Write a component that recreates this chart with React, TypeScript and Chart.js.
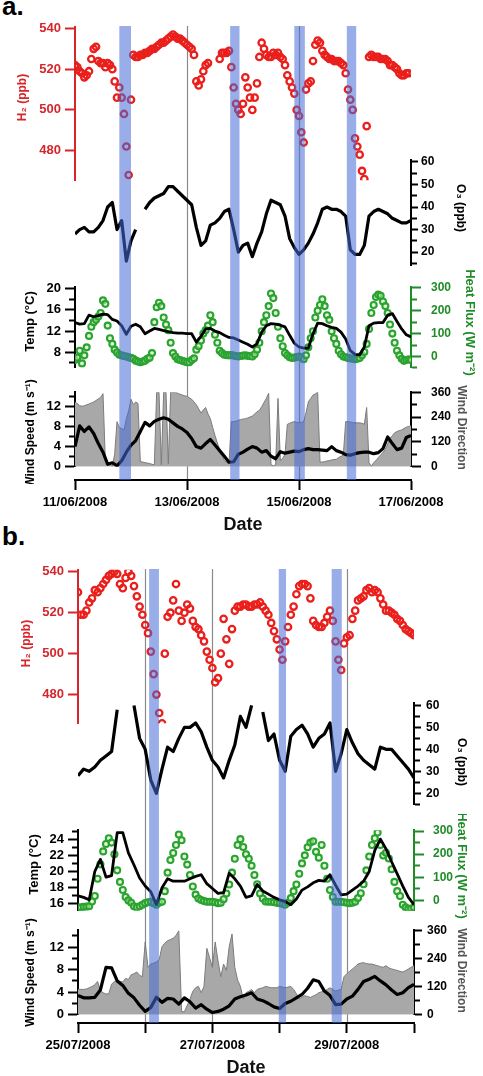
import { useEffect, useRef } from "react";
import { Chart, registerables } from "chart.js";

Chart.register(...registerables);

const W = 483;
const H = 1076;
const FONT = "'Liberation Sans', Arial, Helvetica, sans-serif";
const PAD = 10;
const XH = 56;

const RED = "#ea1f1b";
const RED_AXIS = "#d6262b";
const GREEN = "#2aa330";
const GREEN_AXIS = "#1f8c28";
const HF_FILL = "rgba(200, 240, 180, 0.55)";
const BAND = "rgba(70, 105, 215, 0.55)";
const WD_FILL = "#a8a8a8";
const WD_EDGE = "#7c7c7c";

type Val = number | null;

// ---------- panel a : 11/06/2008 00:00 -> 17/06/2008 00:00 (hours from start) ----------
const A_DATES = ["11/06/2008", "13/06/2008", "15/06/2008", "17/06/2008"];
const A_LINES = [48, 96];
const A_BANDS = [[19, 24], [66.5, 70.5], [94, 98.5], [116.5, 120.5]];

// hourly
const A_H2: Val[] = [
  522, 521, 519, 518, 516, 517, 519, 525, 530, 531,
  524, 523, 523, 521, 523, 522, 520, 514, 506, 511,
  506, 498, 482, 468, 505, 527, 526, 526, 527, 527,
  528, 528, 529, 530, 530, 531, 532, 533, 533, 534,
  535, 536, 537, 536, 535, 535, 534, 533, 532, 531,
  530, 527, 514, 512, 515, 519, 522, 523, null, null,
  null, null, 525, 528, 528, 528, 529, 521, 511, 503,
  500, 498, 503, 516, 511, 506, 500, 506, 513, 526,
  533, 530, 527, 526, 526, 528, 527, 528, 526, 525,
  522, 517, 514, 511, 508, 500, 497, 489, 484, 510,
  513, 514, 524, 532, 534, 533, 529, 527, 526, 525,
  525, 524, 524, 524, 523, 522, 518, 510, 505, 500,
  486, 482, 478, 470, 466, 492, 526, 527, 526, 526,
  526, 525, 525, 525, 524, 522, 522, 521, 520, 518,
  517, 517, 518, 518, null,
];
const A_HF: Val[] = [
  -15, -5, 25, -30, 5, 40, 90, 130, 150, 160,
  175, 190, 245, 230, 135, 80, 55, 30, 18, 8,
  5, 2, 0, -3, -6, -10, -18, -22, -25, -22,
  -18, -10, -5, 15, 150, 215, 235, 220, 170, 140,
  115, 60, 15, 0, -12, -15, -19, -22, -25, -25,
  -15, -8, 30, 45, 70, 100, 115, 135, 180, 150,
  95, 60, 25, 15, 8, 6, 5, 6, 4, 2,
  0, 2, 4, 5, 3, 2, 0, 10, 30, 60,
  110, 150, 180, 220, 275, 255, 190, 130, 80, 45,
  15, 5, -3, -6, -5, -2, 0, -5, -12, 5,
  40, 80, 110, 170, 200, 225, 250, 220, 180, 160,
  110, 80, 55, 25, 10, 0, -3, -6, -8, -10,
  -12, -10, -6, 5, 20, 55, 120, 190, 225, 260,
  270, 265, 240, 220, 190, 140, 100, 60, 25, 5,
  -10, -19, -15, -12, -15,
];
const A_WD: Val[] = [
  313, 305, 295, 292, 295, 299, 303, 308, 313, 320,
  328, 335, 353, 30, 16, 10, 3, 60, 218, 190,
  185, 178, 232, 270, 326, 300, 313, 305, 25, 23,
  20, 18, 16, 12, 10, 360, 360, 10, 360, 360,
  15, 360, 360, 360, 355, 350, 346, 343, 340, 333,
  326, 313, 299, 280, 259, 275, 286, 255, 232, 190,
  151, 115, 84, 55, 30, 22, 16, 218, 218, 220,
  225, 228, 230, 232, 236, 240, 245, 255, 265, 272,
  290, 310, 330, 355, 10, 5, 10, 330, 30, 40,
  60, 205, 210, 215, 218, 215, 212, 215, 218, 260,
  313, 330, 346, 352, 360, 23, 23, 25, 28, 30,
  33, 35, 36, 45, 50, 57, 218, 218, 216, 214,
  212, 212, 212, 210, 205, 286, 20, 3, 20, 30,
  45, 57, 70, 84, 110, 137, 150, 164, 170, 175,
  178, 185, 191, 195, 198,
];
// two-hourly
const A_O3: Val[] = [
  28, 30, 31, 29, 29, 31, 34, 40, 42, 30,
  34, 16, 25, 30, null, 39, 42, 44, 45, 46,
  49, 49, 47, 45, 43, 41, 31, 23, 25, 32,
  33, 35, 38, 39, 30, 20, 23, 24, 18, 24,
  29, 37, 43, 42, 41, 36, 26, 22, 19, 21,
  24, 28, 33, 39, 40, 39, 39, 38, 36, 21,
  19, 19, 23, 36, 38, 39, 38, 37, 35, 34,
  33, 33, 34,
];
const A_TEMP: Val[] = [
  13.6, 13.3, 13.4, 15.0, 14.7, 14.9, 15.2, 15.1, 14.2, 13.9,
  13.0, 11.4, 12.9, 13.3, 12.8, 11.5, 12.0, 12.5, 12.3, 12.1,
  11.9, 11.7, 11.6, 11.6, 11.5, 11.5, 9.9, 11.0, 12.4, 12.5,
  12.0, 11.7, 11.2, 10.8, 10.7, 10.3, 9.9, 9.5, 9.0, 9.6,
  11.8, 13.0, 13.4, 13.3, 13.1, 12.8, 11.2, 9.7, 9.0, 8.8,
  8.8, 11.5, 13.5, 13.4, 13.0, 12.7, 12.5, 11.8, 10.5, 8.3,
  7.6, 7.5, 9.0, 13.0, 13.5, 13.6, 13.6, 15.0, 15.3, 13.8,
  12.4, 11.3, 10.9,
];
const A_WS: Val[] = [
  4.0, 8.1, 7.0, 7.9, 6.6, 4.6, 2.9, 0.5, 0.8, 0.2,
  1.2, 2.9, 4.3, 5.2, 7.0, 8.8, 8.1, 9.0, 9.4, 9.7,
  9.4, 8.7, 8.0, 7.5, 6.8, 5.6, 4.0, 3.7, 4.6, 5.4,
  4.3, 3.2, 2.1, 0.9, 1.0, 2.5, 2.9, 3.5, 4.0, 3.7,
  2.9, 3.2, 2.1, 1.6, 3.0, 2.7, 2.9, 3.1, 3.0, 3.4,
  3.6, 3.4, 3.4, 3.3, 3.2, 4.0, 3.2, 2.9, 2.4, 2.3,
  2.6, 2.8, 2.9, 2.9, 2.6, 2.8, 3.6, 5.9, 4.6, 3.4,
  3.7, 5.8, 6.2,
];

// ---------- panel b : 25/07/2008 00:00 -> 30/07/2008 00:00 ----------
const B_DATES = ["25/07/2008", "27/07/2008", "29/07/2008"];
const B_LINES = [24, 48, 96];
const B_BANDS = [[25.4, 28.9], [71.7, 74.3], [90.6, 94.2]];

// hourly
const B_H2: Val[] = [
  530, 519, 519, 521, 525, 527, 531, 530, 532, 534,
  536, 538, 539, 540, 539, 534, 532, 537, 540, 538,
  533, 528, 523, 519, 514, 510, 501, 490, 480, 471,
  466, 500, 518, 520, 526, 534, 521, 516, 520, 524,
  522, 516, 513, 512, 509, 506, 501, 497, 493, 486,
  488, 500, 517, 507, 495, 512, 521, 523, 523, 524,
  524, 523, 523, 524, 524, 525, 523, 521, 519, 515,
  511, 507, 502, 497, 506, 513, 519, 523, 529, 533,
  534, 534, 533, 527, 516, 514, 513, 513, 515, 518,
  521, 516, 506, 497, 492, 505, 508, 509, 517, 521,
  526, 527, 528, 531, 532, 530, 531, 530, 527, 524,
  521, 521, 520, 519, 517, 516, 514, 512, 511, 510,
  509,
];
const B_HF: Val[] = [
  -31, -30, -28, -27, -25, -5, 19, 94, 156, 212,
  244, 269, 250, 200, 130, 80, 45, 15, 0, -10,
  -25, -31, -25, -19, -12, -8, -6, -12, -19, -10,
  -6, 40, 120, 175, 205, 240, 285, 260, 190, 155,
  110, 60, 25, 8, 2, -3, -6, -6, -6, -8,
  -12, -10, 5, 30, 69, 120, 180, 240, 265, 231,
  200, 180, 150, 110, 70, 30, 8, -5, -6, -6,
  -8, -10, -12, -15, -19, -10, 10, 40, 69, 115,
  160, 195, 230, 250, 256, 210, 185, 240, 150, 94,
  45, 15, -6, -6, -6, -8, -10, -12, -10, -6,
  10, 31, 70, 130, 190, 240, 269, 294, 240, 194,
  206, 181, 135, 80, 40, 19, -19, -30, -37, -35,
  -31,
];
const B_WD: Val[] = [
  108, 108, 108, 110, 115, 120, 128, 142, 101, 94,
  88, 90, 130, 142, 148, 142, 140, 155, 150, 170,
  175, 182, 168, 162, 310, 202, 216, 220, 225, 235,
  290, 305, 315, 320, 326, 337, 357, 13, 13, 40,
  67, 100, 115, 121, 94, 121, 283, 243, 202, 310,
  229, 162, 216, 189, 290, 344, 202, 148, 121, 67,
  94, 100, 108, 94, 108, 112, 115, 121, 118, 115,
  115, 115, 121, 118, 115, 118, 121, 108, 90, 67,
  75, 81, 78, 74, 80, 85, 94, 98, 101, 108,
  115, 108, 101, 105, 108, 162, 175, 185, 195, 205,
  216, 220, 222, 218, 216, 216, 212, 209, 205, 202,
  209, 200, 195, 192, 189, 185, 182, 188, 195, 202,
  209,
];
// two-hourly
const B_O3: Val[] = [
  28, 31, 30, 32, 35, 37, 39, 58, null, null,
  60, 45, 40, 26, 20, 31, 41, 39, 45, 50,
  50, 52, 48, 41, 35, 32, 27, 35, 42, 55,
  50, 60, null, 57, 44, 47, 35, 30, 46, 49,
  51, 47, 41, 45, 47, 52, 30, 38, 49, 43,
  38, 35, 33, 31, 41, 40, 40, 37, 34, 31,
  27,
];
const B_TEMP: Val[] = [
  17.0, 16.8, 16.5, 20.0, 21.5, 19.3, 19.5, 24.8, 24.8, 22.3,
  20.8, 19.2, 18.2, 17.5, 15.9, 18.0, 19.1, 18.8, 18.8, 18.8,
  19.1, 19.4, 19.6, 18.5, 17.9, 17.3, 17.4, 19.8, 19.1, 18.2,
  16.8, 17.0, 18.4, 17.6, 17.2, 16.8, 16.5, 16.3, 15.9, 16.6,
  17.7, 18.1, 18.6, 18.9, 18.8, 19.6, 18.3, 17.1, 17.2, 17.7,
  18.2, 18.8, 20.0, 22.6, 24.0, 22.8, 21.2, 19.7, 18.2, 16.8,
  15.9,
];
const B_WS: Val[] = [
  3.4, 3.0, 3.0, 3.1, 4.4, 8.4, 8.3, 6.0, 5.2, 3.8,
  3.0, 1.7, 0.6, 1.3, 3.1, 2.2, 2.9, 2.8, 1.9, 3.0,
  2.3, 1.2, 1.8, 1.0, 0.4, 0.6, 1.0, 1.6, 2.8, 3.2,
  3.5, 3.9, 2.8, 2.5, 2.0, 1.4, 1.1, 2.0, 2.4, 3.0,
  3.6, 4.7, 6.2, 5.9, 4.2, 3.4, 1.8, 1.9, 2.8, 3.3,
  4.5, 5.9, 6.3, 6.8, 6.0, 5.3, 4.4, 3.6, 3.9, 4.8,
  5.4,
];

// ---------- helpers ----------
const pts = (vals: Val[], step: number) => vals.map((v, i) => ({ x: i * step, y: v }));

// value range of an axis, from two tick positions
const calib = (v1: number, y1: number, v2: number, y2: number, top: number, bottom: number) => {
  const ppu = (y2 - y1) / (v1 - v2);
  return { min: v2 - (bottom - y2) / ppu, max: v1 + (y1 - top) / ppu };
};

type AxisSpec = {
  min: number; max: number; step: number; major: number;
  color: string; label: string; size: number; tick: number; pad: number;
};
type Title = { text: string; x: number; dy: number; size: number; color: string; side: "left" | "right" };
type Plot = { top: number; bottom: number; sets: () => any[]; l?: AxisSpec; r?: AxisSpec; titles: Title[] };
type PanelCfg = {
  left: number; right: number; xMax: number; xTicks: number[]; xLabel: (v: number) => string;
  layerTop: number; axisY: number; lines: number[]; bands: number[][]; plots: Plot[];
};

const titlePlugin = {
  id: "axisTitles",
  afterDraw(chart: any, _a: any, opts: any) {
    const { ctx, chartArea } = chart;
    (opts.items || []).forEach((t: Title) => {
      ctx.save();
      ctx.translate(t.x, (chartArea.top + chartArea.bottom) / 2 + t.dy);
      ctx.rotate(t.side === "left" ? -Math.PI / 2 : Math.PI / 2);
      ctx.font = `bold ${t.size}px ${FONT}`;
      ctx.fillStyle = t.color;
      ctx.textAlign = "center";
      ctx.textBaseline = "middle";
      ctx.fillText(t.text, 0, 0);
      ctx.restore();
    });
  },
};

const layerPlugin = {
  id: "layer",
  afterDraw(chart: any, _a: any, opts: any) {
    const { ctx, chartArea, scales } = chart;
    const x = scales.x;
    ctx.save();
    if (opts.what === "lines") {
      ctx.strokeStyle = "#8a8a8a";
      ctx.lineWidth = 1.2;
      opts.lines.forEach((h: number) => {
        const px = Math.round(x.getPixelForValue(h)) + 0.5;
        ctx.beginPath();
        ctx.moveTo(px, chartArea.top);
        ctx.lineTo(px, chartArea.bottom);
        ctx.stroke();
      });
    } else {
      ctx.fillStyle = BAND;
      opts.bands.forEach(([a, b]: number[]) => {
        const x1 = x.getPixelForValue(a);
        const x2 = x.getPixelForValue(b);
        ctx.fillRect(x1, chartArea.top, x2 - x1, chartArea.bottom - chartArea.top);
      });
    }
    ctx.restore();
  },
};

function yScale(pos: "left" | "right", s: AxisSpec, width: number) {
  const isMajor = (v: number) => Math.abs(v / s.major - Math.round(v / s.major)) < 1e-6;
  const minor = 5;
  return {
    type: "linear",
    position: pos,
    min: s.min,
    max: s.max,
    bounds: "data",
    afterFit: (sc: any) => {
      sc.width = width;
    },
    afterBuildTicks: (sc: any) => {
      const out: { value: number }[] = [];
      for (let k = Math.ceil(s.min / s.step - 0.02); k * s.step <= s.max + s.step * 0.02; k++) {
        out.push({ value: k * s.step });
      }
      sc.ticks = out;
    },
    border: { display: true, color: s.color, width: 2 },
    grid: {
      display: true,
      drawOnChartArea: false,
      drawTicks: true,
      tickLength: s.tick,
      tickWidth: 2,
      tickColor: s.color,
      tickBorderDash: (c: any) =>
        c.tick && !isMajor(c.tick.value)
          ? pos === "left" ? [0, s.tick - 1 - minor, minor, 100] : [minor, 100]
          : [],
    },
    ticks: {
      autoSkip: false,
      padding: s.pad,
      color: s.label,
      font: { family: FONT, size: s.size, weight: "bold" },
      callback: (v: any) => (isMajor(Number(v)) ? String(Math.round(Number(v))) : ""),
    },
    title: { display: false },
  };
}

const base = (padding: any, scales: any, plugins: any = {}) => ({
  animation: false,
  responsive: false,
  maintainAspectRatio: false,
  events: [],
  layout: { padding },
  plugins: { legend: { display: false }, tooltip: { enabled: false }, ...plugins },
  scales,
});

const circles = (data: any[], axis: string, color: string, fill: string, r: number, bw: number, order: number) => ({
  data, yAxisID: axis, showLine: false, pointRadius: r, pointBorderWidth: bw,
  pointBorderColor: color, pointBackgroundColor: fill, order,
});
const trace = (data: any[], axis: string, width: number, order: number) => ({
  data, yAxisID: axis, showLine: true, borderColor: "#000", borderWidth: width,
  pointRadius: 0, spanGaps: false, order, borderJoinStyle: "round",
});
const area = (data: any[], axis: string, order: number) => ({
  data, yAxisID: axis, showLine: true, fill: "origin", backgroundColor: WD_FILL,
  borderColor: WD_EDGE, borderWidth: 1, pointRadius: 0, spanGaps: false, order,
});

function plotConfig(p: PanelCfg, pl: Plot) {
  const scales: any = { x: { type: "linear", min: 0, max: p.xMax, bounds: "data", display: false } };
  if (pl.l) scales.yL = yScale("left", pl.l, p.left);
  if (pl.r) scales.yR = yScale("right", pl.r, W - p.right);
  return {
    type: "line",
    data: { datasets: pl.sets() },
    options: base(
      { top: PAD, bottom: PAD, left: pl.l ? 0 : p.left, right: pl.r ? 0 : W - p.right },
      scales,
      { axisTitles: { items: pl.titles } }
    ),
    plugins: [titlePlugin],
  };
}

function axisConfig(p: PanelCfg) {
  return {
    type: "line",
    data: { datasets: [] },
    options: base({ top: 0, bottom: 0, left: p.left, right: W - p.right }, {
      y: { display: false, min: 0, max: 1 },
      x: {
        type: "linear",
        position: "bottom",
        min: 0,
        max: p.xMax,
        bounds: "data",
        afterBuildTicks: (sc: any) => {
          sc.ticks = p.xTicks.map((v) => ({ value: v }));
        },
        afterFit: (sc: any) => {
          sc.height = XH;
        },
        border: { display: true, color: "#000", width: 2 },
        grid: { display: true, drawOnChartArea: false, tickLength: 10, tickWidth: 2, tickColor: "#000" },
        ticks: {
          autoSkip: false, maxRotation: 0, minRotation: 0, padding: 5, color: "#000",
          font: { family: FONT, size: 13, weight: "bold" },
          callback: (v: any) => p.xLabel(Number(v)),
        },
        title: {
          display: true, text: "Date", color: "#111",
          font: { family: FONT, size: 18, weight: "bold" },
          padding: { top: 0, bottom: 0 },
        },
      },
    }),
  };
}

function layerConfig(p: PanelCfg, what: "lines" | "bands") {
  return {
    type: "line",
    data: { datasets: [] },
    options: base(
      { top: 0, bottom: 0, left: p.left, right: W - p.right },
      {
        x: { type: "linear", min: 0, max: p.xMax, bounds: "data", display: false },
        y: { display: false, min: 0, max: 1 },
      },
      { layer: { what, lines: p.lines, bands: p.bands } }
    ),
    plugins: [layerPlugin],
  };
}

type Layer = { key: string; top: number; height: number; make: () => any };

function buildLayers(id: string, p: PanelCfg): Layer[] {
  const out: Layer[] = [];
  out.push({ key: id + "-lines", top: p.layerTop, height: p.axisY - p.layerTop, make: () => layerConfig(p, "lines") });
  p.plots.forEach((pl, i) =>
    out.push({ key: id + "-plot" + i, top: pl.top - PAD, height: pl.bottom - pl.top + 2 * PAD, make: () => plotConfig(p, pl) })
  );
  out.push({ key: id + "-axis", top: p.axisY - 4, height: 4 + XH, make: () => axisConfig(p) });
  out.push({ key: id + "-bands", top: p.layerTop, height: p.axisY - p.layerTop, make: () => layerConfig(p, "bands") });
  return out;
}

const left = (o: { min: number; max: number }, step: number, major: number, color = "#000"): AxisSpec => ({
  ...o, step, major, color, label: color, size: 13, tick: 10, pad: 4,
});
const right = (o: { min: number; max: number }, step: number, major: number, tick: number, pad: number, color = "#000"): AxisSpec => ({
  ...o, step, major, color, label: color, size: 12, tick, pad,
});

const h2Set = (vals: Val[]) => circles(pts(vals, 1), "yL", RED, "rgba(255,255,255,0)", 3.2, 2.3, 1);
const hfSet = (vals: Val[]) => circles(pts(vals, 1), "yR", GREEN, HF_FILL, 3, 2.1, 2);

const PANEL_A: PanelCfg = {
  left: 75,
  right: 411,
  xMax: 144,
  xTicks: [0, 48, 96, 144],
  xLabel: (v) => A_DATES[Math.round(v / 48)] ?? "",
  layerTop: 26,
  axisY: 480,
  lines: A_LINES,
  bands: A_BANDS,
  plots: [
    {
      top: 25, bottom: 182,
      sets: () => [h2Set(A_H2)],
      l: left(calib(540, 26.7, 480, 151.7, 25, 182), 20, 20, RED_AXIS),
      titles: [{ text: "H\u2082 (ppb)", x: 23, dy: -6, size: 12, color: RED_AXIS, side: "left" }],
    },
    {
      top: 160, bottom: 266,
      sets: () => [trace(pts(A_O3, 2), "yR", 3.2, 1)],
      r: right(calib(60, 161.7, 20, 252.3, 160, 266), 5, 10, 7, 3),
      titles: [{ text: "O\u2083 (ppb)", x: 460, dy: -5, size: 12, color: "#000", side: "right" }],
    },
    {
      top: 280, bottom: 375,
      sets: () => [trace(pts(A_TEMP, 2), "yL", 2.8, 1), hfSet(A_HF)],
      l: left(calib(20, 281.7, 8, 356.7, 280, 375), 2, 4),
      r: right(calib(300, 280.7, 0, 361.7, 280, 375), 50, 100, 10, 10, GREEN_AXIS),
      titles: [
        { text: "Temp (\u00B0C)", x: 30, dy: -6, size: 13, color: "#000", side: "left" },
        { text: "Heat Flux (W m\u207B\u00B2)", x: 470, dy: -5, size: 13, color: GREEN_AXIS, side: "right" },
      ],
    },
    {
      top: 385, bottom: 474,
      sets: () => [trace(pts(A_WS, 2), "yL", 3.2, 1), area(pts(A_WD, 1), "yR", 2)],
      l: left(calib(12, 401.7, 0, 474, 385, 474), 2, 4),
      r: right(calib(360, 385, 0, 474, 385, 474), 60, 120, 10, 10),
      titles: [
        { text: "Wind Speed (m s\u207B\u00B9)", x: 31, dy: 4, size: 12, color: "#000", side: "left" },
        { text: "Wind Direction", x: 461, dy: -2, size: 12, color: "#555", side: "right" },
      ],
    },
  ],
};

const PANEL_B: PanelCfg = {
  left: 78,
  right: 414,
  xMax: 120,
  xTicks: [0, 24, 48, 72, 96, 120],
  xLabel: (v) => (Math.round(v) % 48 === 0 ? B_DATES[Math.round(v / 48)] ?? "" : ""),
  layerTop: 569,
  axisY: 1023,
  lines: B_LINES,
  bands: B_BANDS,
  plots: [
    {
      top: 568, bottom: 725,
      sets: () => [h2Set(B_H2)],
      l: left(calib(540, 570, 480, 695.7, 568, 725), 20, 20, RED_AXIS),
      titles: [{ text: "H\u2082 (ppb)", x: 27, dy: -3, size: 12, color: RED_AXIS, side: "left" }],
    },
    {
      top: 701, bottom: 807,
      sets: () => [trace(pts(B_O3, 2), "yR", 3.2, 1)],
      r: right(calib(60, 703.3, 20, 795, 701, 807), 5, 10, 7, 5),
      titles: [{ text: "O\u2083 (ppb)", x: 461, dy: 8, size: 12, color: "#000", side: "right" }],
    },
    {
      top: 824, bottom: 917,
      sets: () => [trace(pts(B_TEMP, 2), "yL", 2.8, 1), hfSet(B_HF)],
      l: left(calib(24, 834.3, 16, 909, 824, 917), 1, 2),
      r: right(calib(300, 825, 0, 905, 824, 917), 50, 100, 10, 9, GREEN_AXIS),
      titles: [
        { text: "Temp (\u00B0C)", x: 34, dy: -6, size: 13, color: "#000", side: "left" },
        { text: "Heat Flux (W m\u207B\u00B2)", x: 462, dy: -5, size: 13, color: GREEN_AXIS, side: "right" },
      ],
    },
    {
      top: 928, bottom: 1017,
      sets: () => [trace(pts(B_WS, 2), "yL", 3.2, 1), area(pts(B_WD, 1), "yR", 2)],
      l: left(calib(12, 945.7, 0, 1017, 928, 1017), 2, 4),
      r: right(calib(360, 928, 0, 1017, 928, 1017), 60, 120, 8, 5),
      titles: [
        { text: "Wind Speed (m s\u207B\u00B9)", x: 31, dy: 0, size: 12, color: "#000", side: "left" },
        { text: "Wind Direction", x: 461, dy: -2, size: 12, color: "#555", side: "right" },
      ],
    },
  ],
};

function ChartBox({ top, height, make }: { top: number; height: number; make: () => any }) {
  const ref = useRef<HTMLCanvasElement | null>(null);

  useEffect(() => {
    if (!ref.current) return;
    const chart = new Chart(ref.current, make());
    return () => {
      chart.destroy();
    };
  }, []);

  return (
    <canvas
      ref={ref}
      width={W}
      height={height}
      style={{ position: "absolute", left: 0, top, width: W, height, display: "block" }}
    />
  );
}

const LAYERS = [...buildLayers("a", PANEL_A), ...buildLayers("b", PANEL_B)];

export default function App() {
  return (
    <div style={{ position: "absolute", left: 0, top: 0, width: W, height: H, background: "#fff", overflow: "hidden" }}>
      <div style={{ position: "absolute", left: 2, top: -7, font: `bold 26px/26px ${FONT}`, color: "#000" }}>a.</div>
      <div style={{ position: "absolute", left: 2, top: 523, font: `bold 26px/26px ${FONT}`, color: "#000" }}>b.</div>
      {LAYERS.map((l) => (
        <ChartBox key={l.key} top={l.top} height={l.height} make={l.make} />
      ))}
    </div>
  );
}
